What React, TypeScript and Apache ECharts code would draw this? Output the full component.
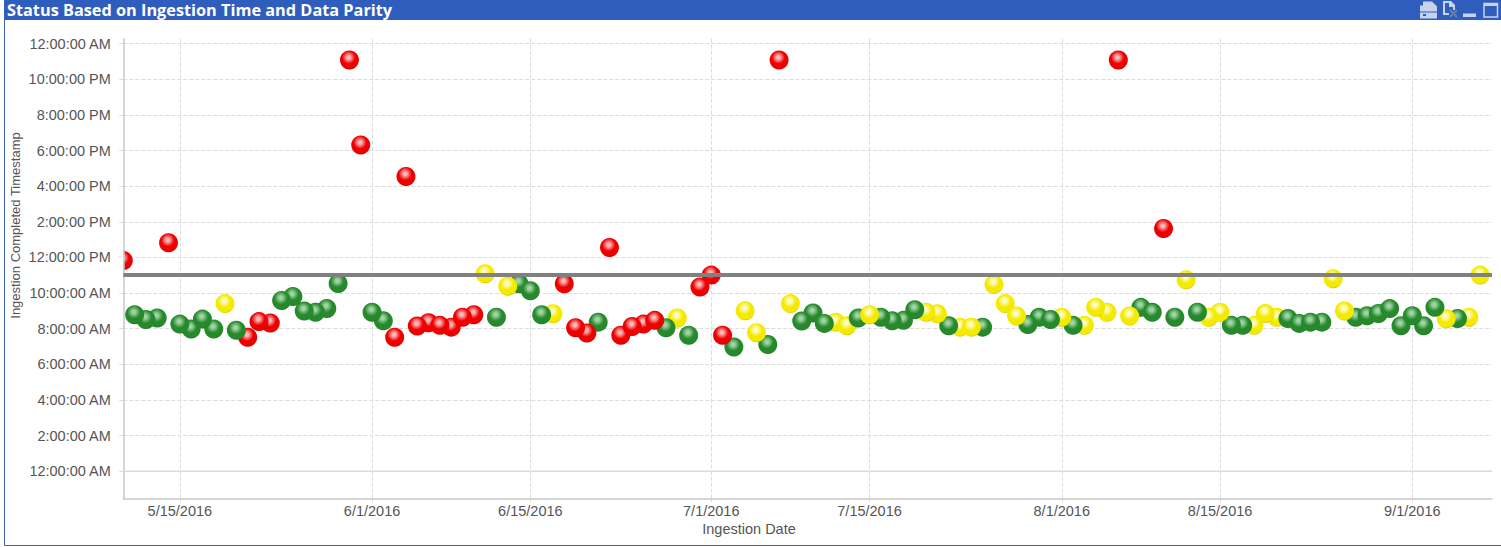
import React, { useEffect, useRef } from "react";
import * as echarts from "echarts";

const START = [2016, 4, 10];
const hours = [
  11.83, 8.79, 8.52, 8.6, 12.83, 8.26, 7.98, 8.54, 7.98, 9.41, 7.91, 7.52, 8.4, 8.32, 9.59, 9.81, 8.99, 8.92, 9.14, 10.54,
  23.08, 18.31, 8.93, 8.45, 7.52, 16.55, 8.15, 8.34, 8.19, 8.09, 8.65, 8.79, 11.09, 8.65, 10.39, 10.53, 10.13, 8.79, 8.84, 10.53,
  8.06, 7.76, 8.37, 12.56, 7.64, 8.12, 8.26, 8.47, 8.06, 8.6, 7.64, 10.34, 11.01, 7.64, 6.97, 9.01, 7.78, 7.11, 23.08, 9.41,
  8.43, 8.88, 8.3, 8.37, 8.17, 8.6, 8.79, 8.65, 8.45, 8.47, 9.07, 8.93, 8.84, 8.17, 8.09, 8.09, 8.09, 10.49, 9.41, 8.71,
  8.24, 8.64, 8.52, 8.65, 8.19, 8.19, 9.2, 8.92, 23.08, 8.71, 9.2, 8.92, 13.63, 8.65, 10.75, 8.93, 8.64, 8.92, 8.19, 8.19,
  8.19, 8.86, 8.64, 8.58, 8.3, 8.37, 8.37, 10.81, 8.99, 8.64, 8.73, 8.86, 9.13, 8.17, 8.73, 8.17, 9.2, 8.56, 8.58, 8.65, 11.01,
];
const status = (
  "RGGGRGGGGYGRRRGGGGGGRRGGRRRRRRRRYGYGGGYR" +
  "RRGRRRRRGYGRRRGYYGRYGGGYYGYGGGGYYGYYGYYY" +
  "GGGYGYYYRYGGRGYGYYGGYYYGGGGYYGGGGGGGGYGYY"
).split("");
const raisedDays = [7, 28, 30, 36, 45, 47, 62, 64, 65, 66, 70, 75, 79, 82, 91, 101, 103, 104, 105, 110, 111, 112, 114];
const yTicks = [0, 2, 4, 6, 8, 10, 12, 14, 16, 18, 20, 22, 24];
const xTickDates = [[2016, 4, 15], [2016, 5, 1], [2016, 5, 15], [2016, 6, 1], [2016, 6, 15], [2016, 7, 1], [2016, 7, 15], [2016, 8, 1]];
const thresholdHour = 11.02;
const title = "Status Based on Ingestion Time and Data Parity";
const xName = "Ingestion Date";
const yName = "Ingestion Completed Timestamp";

const DAY = 86400000;
const t0 = new Date(START[0], START[1], START[2]).getTime();
const xMin = t0;
const xMax = t0 + 121.05 * DAY;
const yMin = -1.54;
const yMax = 24.28;
const xTicks = xTickDates.map((d) => new Date(d[0], d[1], d[2]).getTime());

const sphere = (hi: string, mid: string, edge: string) => ({
  type: "radial", x: 0.46, y: 0.36, r: 0.68,
  colorStops: [
    { offset: 0, color: hi },
    { offset: 0.12, color: hi },
    { offset: 0.5, color: mid },
    { offset: 0.84, color: mid },
    { offset: 1, color: edge },
  ],
});
const fills: Record<string, any> = {
  R: sphere("#ffb8b8", "#ee0000", "#b00000"),
  G: sphere("#a0d4a4", "#268a2c", "#1e7024"),
  Y: sphere("#fffcc8", "#f4ea00", "#c0b400"),
};

const order = () => {
  const base: number[] = [];
  for (let d = hours.length - 1; d >= 0; d--) if (!raisedDays.includes(d)) base.push(d);
  return base.concat(raisedDays);
};

const fmtHour = (v: number) => {
  const h = Math.round(v) % 24;
  const h12 = h % 12 === 0 ? 12 : h % 12;
  return `${h12}:00:00 ${h < 12 ? "AM" : "PM"}`;
};

echarts.graphic.registerShape("printIcon", echarts.graphic.extendPath("M3 0H12L17 5V10H0V4H3ZM0 11H17V17H0Z", {}));
echarts.graphic.registerShape("docIcon", echarts.graphic.extendPath("M0 0H8L12 4V9H10V6H6V2H2V12H6V14H0Z", {}));

export default function App() {
  const ref = useRef<HTMLDivElement>(null);
  useEffect(() => {
    const chart = echarts.init(ref.current!, undefined, { renderer: "svg" });
    const labelStyle = { color: "#555", fontFamily: "Liberation Sans", fontSize: 14.5 };
    chart.setOption({
      animation: false,
      backgroundColor: "#fff",
      grid: { left: 123.3, top: 38.7, width: 1368.7, height: 460 },
      xAxis: {
        type: "value",
        min: xMin,
        max: xMax,
        axisLine: { show: true, onZero: false, lineStyle: { color: "#c8c8c8", width: 1.5 } },
        axisTick: { show: true, length: 3, lineStyle: { color: "#d4d4d4", type: "dashed" }, customValues: xTicks },
        axisLabel: {
          ...labelStyle,
          margin: 5,
          customValues: xTicks,
          formatter: (v: number) => {
            const d = new Date(v);
            return `${d.getMonth() + 1}/${d.getDate()}/${d.getFullYear()}`;
          },
        },
        splitLine: { show: true, lineStyle: { color: "#dcdcdc", type: "dashed", width: 1 } },
      },
      yAxis: {
        type: "value",
        min: yMin,
        max: yMax,
        axisLine: { show: true, onZero: false, lineStyle: { color: "#c8c8c8", width: 1.5 } },
        axisTick: { show: true, length: 5, lineStyle: { color: "#dcdcdc", type: "dashed" }, customValues: yTicks },
        axisLabel: { ...labelStyle, margin: 12.5, customValues: yTicks, formatter: (v: number) => fmtHour(v) },
        splitLine: { show: true, lineStyle: { color: "#dcdcdc", type: "dashed", width: 1 } },
      },
      series: [
        {
          type: "line",
          z: 1,
          silent: true,
          showSymbol: false,
          lineStyle: { color: "#dcdcdc", width: 1.5 },
          data: [[xMin, 0], [xMax, 0]],
        },
        {
          type: "scatter",
          z: 3,
          symbol: "circle",
          symbolSize: 19,
          data: order().map((d) => ({
            value: [t0 + d * DAY, hours[d]],
            itemStyle: { color: fills[status[d]], opacity: 1 },
          })),
        },
        {
          type: "line",
          z: 5,
          silent: true,
          showSymbol: false,
          lineStyle: { color: "#808080", width: 4 },
          data: [[xMin, thresholdHour], [xMax, thresholdHour]],
        },
      ],
      graphic: [
        // mask: the first point is cut off at the y axis, as in the plot area clip
        { type: "rect", z: 9, shape: { x: 113, y: 249, width: 10.6, height: 22 }, style: { fill: "#fff" } },
        { type: "line", z: 9, shape: { x1: 118, y1: 257, x2: 123, y2: 257 }, style: { stroke: "#dcdcdc", lineWidth: 1, lineDash: [4, 3] } },
        { type: "line", z: 9, shape: { x1: 124, y1: 249, x2: 124, y2: 271 }, style: { stroke: "#c8c8c8", lineWidth: 1.5 } },
        { type: "line", z: 10, shape: { x1: 4.5, y1: 0, x2: 4.5, y2: 545.5 }, style: { stroke: "#3a62b8", lineWidth: 1 } },
        { type: "line", z: 10, shape: { x1: 4.5, y1: 545.5, x2: 1501, y2: 545.5 }, style: { stroke: "#3a62b8", lineWidth: 1 } },
        { type: "rect", shape: { x: 5, y: 0, width: 1496, height: 20 }, style: { fill: "#2f5dbd" }, z: 11 },
        {
          type: "text", x: 7, y: 10, z: 12,
          style: { text: title, fill: "#fff", font: "bold 16.3px 'Open Sans'", verticalAlign: "middle" },
        },
        {
          type: "text", x: 749, y: 529, z: 12,
          style: { text: xName, fill: "#555", font: "14.5px 'Liberation Sans'", align: "center", verticalAlign: "middle" },
        },
        {
          type: "text", x: 15, y: 225.5, z: 12, rotation: Math.PI / 2,
          style: { text: yName, fill: "#555", font: "13px 'Liberation Sans'", align: "center", verticalAlign: "middle" },
        },
        { type: "printIcon", x: 1420, y: 1.5, z: 12, style: { fill: "#c5d3ec" } },
        { type: "rect", z: 13, shape: { x: 1423, y: 14, width: 3, height: 2 }, style: { fill: "#2f5dbd" } },
        { type: "docIcon", x: 1443, y: 1, z: 12, style: { fill: "#c5d3ec" } },
        { type: "line", z: 12, shape: { x1: 1450, y1: 10, x2: 1457, y2: 17 }, style: { stroke: "#6d7f9f", lineWidth: 2 } },
        { type: "line", z: 12, shape: { x1: 1457, y1: 10, x2: 1450, y2: 17 }, style: { stroke: "#6d7f9f", lineWidth: 2 } },
        { type: "rect", z: 12, shape: { x: 1463, y: 13.5, width: 13, height: 3.5 }, style: { fill: "#c5d3ec" } },
        { type: "rect", z: 12, shape: { x: 1484, y: 3.5, width: 13.5, height: 13.5 }, style: { fill: "none", stroke: "#c5d3ec", lineWidth: 1.5 } },
        { type: "rect", z: 12, shape: { x: 1484, y: 3, width: 13.5, height: 3 }, style: { fill: "#c5d3ec" } },
      ],
    });
    return () => chart.dispose();
  }, []);
  return <div ref={ref} style={{ position: "absolute", left: 0, top: 0, width: 1501, height: 547 }} />;
}
